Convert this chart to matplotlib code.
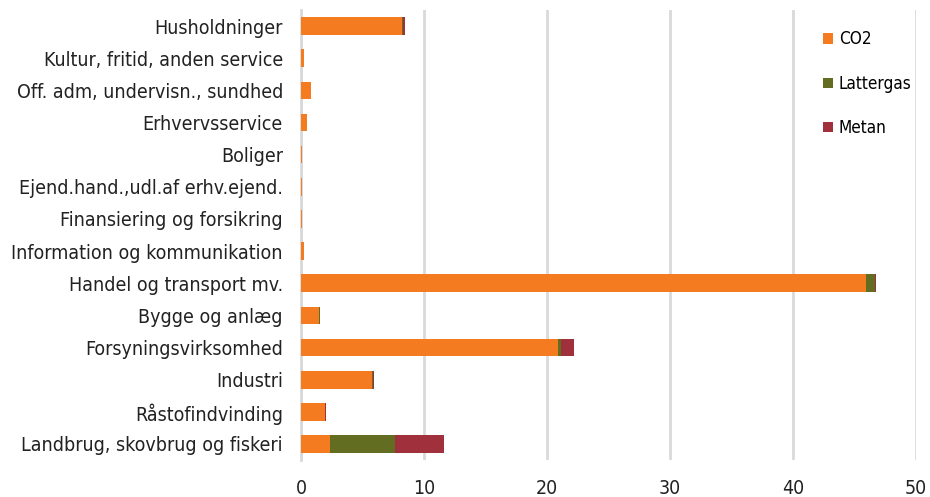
import matplotlib.pyplot as plt
import numpy as np

plt.rcParams['font.family'] = ['DejaVu Sans']
plt.rcParams['font.stretch'] = 'condensed'

categories = ["Landbrug, skovbrug og fiskeri", "Råstofindvinding", "Industri",
              "Forsyningsvirksomhed", "Bygge og anlæg", "Handel og transport mv.",
              "Information og kommunikation", "Finansiering og forsikring",
              "Ejend.hand.,udl.af erhv.ejend.", "Boliger", "Erhvervsservice",
              "Off. adm, undervisn., sundhed", "Kultur, fritid, anden service",
              "Husholdninger"]
co2 = [2.35, 1.95, 5.8, 20.9, 1.5, 45.9, 0.2, 0.1, 0.1, 0.05, 0.45, 0.8, 0.2, 8.2]
lattergas = [5.25, 0.02, 0.02, 0.2, 0.02, 0.8, 0.0, 0.0, 0.0, 0.0, 0.02, 0.02, 0.0, 0.12]
metan = [4.0, 0.05, 0.12, 1.1, 0.03, 0.05, 0.0, 0.0, 0.0, 0.0, 0.02, 0.03, 0.0, 0.12]

colors = {'CO2': '#F47B20', 'Lattergas': '#626D22', 'Metan': '#A0303C'}

fig = plt.figure(figsize=(9.3, 4.97), dpi=100)
ax = fig.add_axes([0.3237, 0.0744, 0.6613, 0.9055])

y = np.arange(len(categories))
co2 = np.array(co2)
lattergas = np.array(lattergas)
metan = np.array(metan)
h = 0.55
ax.barh(y, co2, height=h, color=colors['CO2'], label='CO2', zorder=3)
ax.barh(y, lattergas, left=co2, height=h, color=colors['Lattergas'], label='Lattergas', zorder=3)
ax.barh(y, metan, left=co2 + lattergas, height=h, color=colors['Metan'], label='Metan', zorder=3)

ax.set_xlim(0, 50)
ax.set_ylim(-0.5, 13.5)
ax.set_xticks(range(0, 51, 10))
ax.set_yticks(y)
ax.set_yticklabels(categories)
ax.tick_params(axis='both', length=0, colors='#222222')
ax.tick_params(axis='x', pad=14, labelsize=14)
ax.tick_params(axis='y', pad=13, labelsize=14)
ax.grid(axis='x', color='#D9D9D9', linewidth=2, zorder=0)
for s in ['top', 'right', 'bottom']:
    ax.spines[s].set_visible(False)
ax.spines['left'].set_color('#D9D9D9')
ax.spines['left'].set_linewidth(2)

ax.legend(loc='upper right', bbox_to_anchor=(1.015, 0.985), frameon=False, fontsize=12.3,
          handlelength=0.55, handleheight=0.55, labelspacing=1.55, handletextpad=0.35,
          borderpad=0.3)

plt.savefig('out.png', dpi=100)
